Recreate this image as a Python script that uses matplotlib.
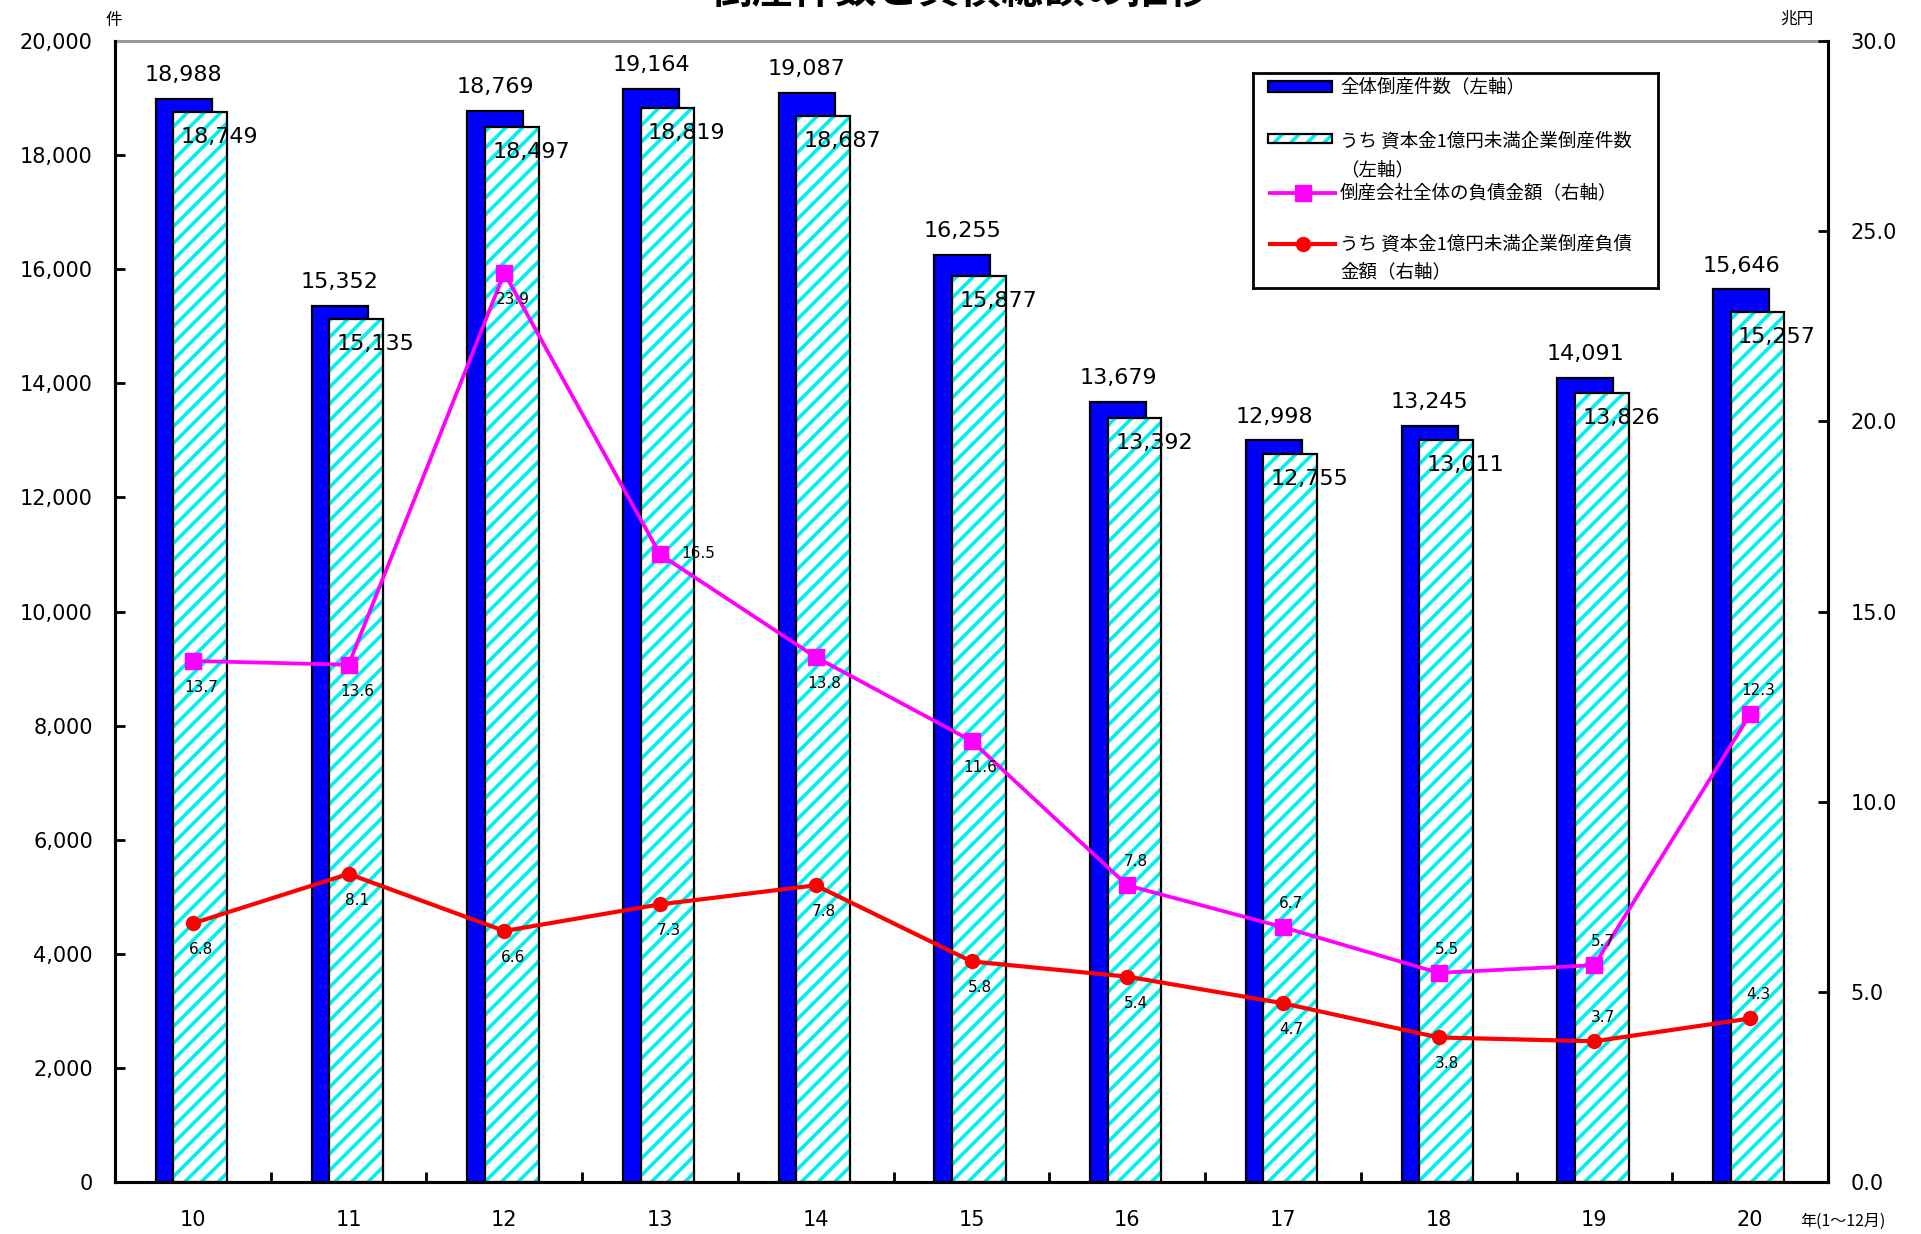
import numpy as np
import matplotlib
matplotlib.use("Agg")
import matplotlib.pyplot as plt
from matplotlib.patches import Rectangle
from matplotlib.lines import Line2D

plt.rcParams['font.family'] = ['Noto Sans CJK JP', 'DejaVu Sans']
plt.rcParams['hatch.linewidth'] = 2.6
NUM_FONT = 'DejaVu Sans'

# 年次データ
years = ['10', '11', '12', '13', '14', '15', '16', '17', '18', '19', '20']
total_count = [18988, 15352, 18769, 19164, 19087, 16255, 13679, 12998, 13245, 14091, 15646]
small_count = [18749, 15135, 18497, 18819, 18687, 15877, 13392, 12755, 13011, 13826, 15257]
total_debt = [13.7, 13.6, 23.9, 16.5, 13.8, 11.6, 7.8, 6.7, 5.5, 5.7, 12.3]
small_debt = [6.8, 8.1, 6.6, 7.3, 7.8, 5.8, 5.4, 4.7, 3.8, 3.7, 4.3]

# ラベル位置 (b=下, a=上, r=右)
total_debt_pos = ['b', 'b', 'b', 'r', 'b', 'b', 'a', 'a', 'a', 'a', 'a']
small_debt_pos = ['b', 'b', 'b', 'b', 'b', 'b', 'b', 'b', 'b', 'a', 'a']

W, H = 1921, 1234
fig = plt.figure(figsize=(W / 100, H / 100), dpi=100)
ax = fig.add_axes([115 / W, 1 - 1182 / H, (1828 - 115) / W, (1182 - 41) / H])

x = np.arange(len(years))
bw = 0.36
ax.bar(x - 0.058, total_count, bw, color='#0000ff', edgecolor='black', linewidth=1.6, zorder=2)
ax.bar(x + 0.047, small_count, 0.345, color='white', edgecolor='#00f0f0', hatch='//', linewidth=0, zorder=3)
ax.bar(x + 0.047, small_count, 0.345, fill=False, edgecolor='black', linewidth=1.6, zorder=4)

for xi, v in zip(x, total_count):
    ax.annotate(f'{v:,}', (xi - 0.058, v), xytext=(0, 10), textcoords='offset points',
                ha='center', va='bottom', fontsize=16, family=NUM_FONT)
for xi, v in zip(x, small_count):
    ax.annotate(f'{v:,}', (xi + 0.047, v), xytext=(14, -18), textcoords='offset points',
                ha='center', va='center', fontsize=16, family=NUM_FONT, zorder=6)

ax.set_xlim(-0.5, len(years) - 0.5)
ax.set_ylim(0, 20000)
ax.set_yticks(np.arange(0, 20001, 2000))
ax.set_yticklabels([f'{v:,}' for v in range(0, 20001, 2000)])
ax.set_xticks(x)
ax.set_xticklabels(years)
ax.set_xticks(x[:-1] + 0.5, minor=True)
ax.tick_params(axis='x', which='major', length=0, pad=20, labelsize=15, labelfontfamily=NUM_FONT)
ax.tick_params(axis='x', which='minor', direction='in', length=7, width=2)
ax.tick_params(axis='y', direction='in', length=7, width=2, pad=16, labelsize=15,
               labelfontfamily=NUM_FONT)
for s in ['left', 'bottom', 'right']:
    ax.spines[s].set_linewidth(2.2)
ax.spines['top'].set_color('#999999')
ax.spines['top'].set_linewidth(2.2)

ax2 = ax.twinx()
ax2.set_ylim(0, 30)
ax2.set_yticks(np.arange(0, 30.1, 5))
ax2.set_yticklabels([f'{v:.1f}' for v in np.arange(0, 30.1, 5)])
ax2.tick_params(axis='y', direction='in', length=7, width=2, pad=16, labelsize=15,
                labelfontfamily=NUM_FONT)
for s in ['left', 'bottom', 'right']:
    ax2.spines[s].set_linewidth(2.2)
ax2.spines['top'].set_visible(False)

ax2.plot(x, total_debt, color='#ff00ff', linewidth=2.7, marker='s', markersize=11, zorder=5)
ax2.plot(x, small_debt, color='#ff0000', linewidth=3, marker='o', markersize=10, zorder=5)

offsets = {'b': ((6, -19), 'center', 'center'),
           'a': ((6, 17), 'center', 'center'),
           'r': ((15, 1), 'left', 'center')}
for series, pos in ((total_debt, total_debt_pos), (small_debt, small_debt_pos)):
    for xi, v, p in zip(x, series, pos):
        off, ha, va = offsets[p]
        ax2.annotate(f'{v:.1f}', (xi, v), xytext=off, textcoords='offset points',
                     ha=ha, va=va, fontsize=11, family=NUM_FONT, zorder=7)

# 軸の単位とタイトル
fig.text(114 / W, 1 - 20 / H, '件', ha='center', va='center', fontsize=12)
fig.text(1797 / W, 1 - 19 / H, '兆円', ha='center', va='center', fontsize=12)
fig.text(1800 / W, 1 - 1221 / H, '年(1～12月)', ha='left', va='center', fontsize=11.5)
fig.text(0.5, 1 - 13 / H, '倒産件数と負債総額の推移', ha='center', va='bottom',
         fontsize=30, fontweight='bold')

# 凡例
lax = fig.add_axes([1253 / W, 1 - 288 / H, 405 / W, 215 / H])
lax.set_xlim(0, 405)
lax.set_ylim(215, 0)
lax.set_xticks([])
lax.set_yticks([])
lax.set_facecolor('white')
for s in lax.spines.values():
    s.set_linewidth(2)
lax.add_patch(Rectangle((15, 8), 64, 11, facecolor='#0000ff', edgecolor='black', linewidth=1.6))
lax.add_patch(Rectangle((15, 61), 64, 9, facecolor='white', edgecolor='#00f0f0', hatch='//', linewidth=0))
lax.add_patch(Rectangle((15, 61), 64, 9, fill=False, edgecolor='black', linewidth=1.6))
lax.add_line(Line2D([15, 50, 84], [120, 120, 120], color='#ff00ff', linewidth=2.7, marker='s',
                    markersize=11, markevery=[1], solid_capstyle='butt'))
lax.add_line(Line2D([15, 50, 84], [171, 171, 171], color='#ff0000', linewidth=3, marker='o',
                    markersize=10, markevery=[1], solid_capstyle='butt'))
legend_text = [(14, '全体倒産件数（左軸）'),
               (69, 'うち 資本金1億円未満企業倒産件数'),
               (97, '（左軸）'),
               (120, '倒産会社全体の負債金額（右軸）'),
               (172, 'うち 資本金1億円未満企業倒産負債'),
               (199, '金額（右軸）')]
for ty, t in legend_text:
    lax.text(87, ty, t, ha='left', va='center', fontsize=13.3)

fig.savefig('out.png', dpi=100)
